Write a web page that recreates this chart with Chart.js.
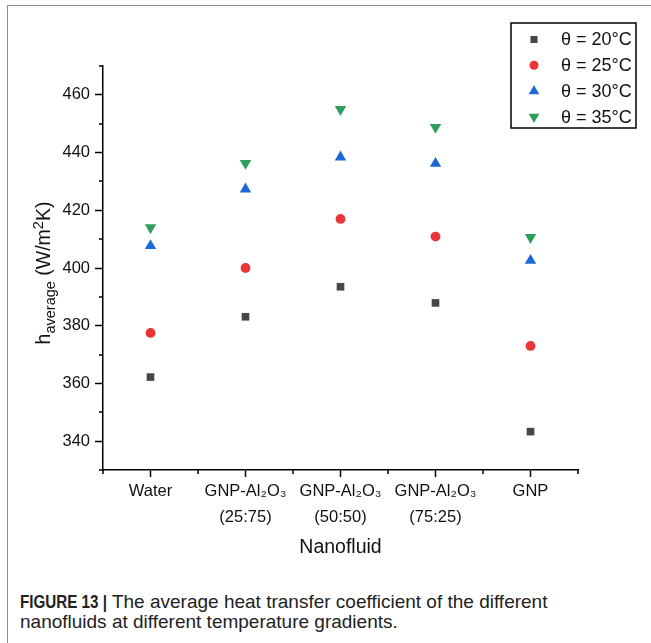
<!DOCTYPE html>
<html><head><meta charset="utf-8">
<script src="https://cdn.jsdelivr.net/npm/chart.js@4.4.0/dist/chart.umd.min.js"></script>
<style>
html,body{margin:0;padding:0;background:#fff;width:651px;height:643px;overflow:hidden;font-family:"Liberation Sans",Arial,sans-serif;}
#frame{position:absolute;left:7px;top:5px;width:700px;height:700px;border-left:1px solid #8c8c8c;border-top:1px solid #8c8c8c;}
#wrap{position:absolute;left:0;top:0;width:651px;height:575px;}
#cap{position:absolute;left:20px;top:592px;font-size:19px;line-height:20px;color:#222;white-space:nowrap;}
#capb{display:inline-block;font-weight:bold;transform-origin:0 50%;}
</style></head><body>
<div id="frame"></div>
<div id="wrap"><canvas id="c" width="651" height="575" style="width:651px;height:575px"></canvas></div>
<div id="cap"><span id="capb">FIGURE 13 |</span> The average heat transfer coefficient of the different<br>nanofluids at different temperature gradients.</div>
<script>
const categories = [["Water"], ["GNP-Al₂O₃", "(25:75)"], ["GNP-Al₂O₃", "(50:50)"], ["GNP-Al₂O₃", "(75:25)"], ["GNP"]];
const seriesNames = ["θ = 20°C", "θ = 25°C", "θ = 30°C", "θ = 35°C"];
const h20 = [362.2, 383.1, 393.5, 387.9, 343.3];
const h25 = [377.5, 400.0, 417.0, 410.9, 373.0];
const h30 = [407.7, 427.3, 438.4, 436.2, 402.6];
const h35 = [414.0, 436.3, 455.0, 448.8, 410.6];
const yTickLabels = [340, 360, 380, 400, 420, 440, 460];
const yMinorTicks = [330, 350, 370, 390, 410, 430, 450, 470];
const xMinorTicks = [-0.5, 0.5, 1.5, 2.5, 3.5, 4.5];
const xTitle = "Nanofluid";

// condense the bold caption label like the reference
(function () {
  const b = document.getElementById('capb');
  const w0 = b.getBoundingClientRect().width;
  const target = 87;
  b.style.transform = 'scaleX(' + (target / w0) + ')';
  b.style.marginRight = (target - w0) + 'px';
})();

const FONT = '"Liberation Sans", Arial, sans-serif';
Chart.defaults.font.family = FONT;

const styles = [
  {pointStyle: 'rect', rotation: 0, radius: 5.4, color: '#474747'},
  {pointStyle: 'circle', rotation: 0, radius: 4.9, color: '#ea3439'},
  {pointStyle: 'triangle', rotation: 0, radius: 6.6, color: '#1d68d8'},
  {pointStyle: 'triangle', rotation: 180, radius: 6.6, color: '#2e9e5c'}
];
const seriesData = [h20, h25, h30, h35];

const datasets = seriesData.map((d, i) => ({
  label: seriesNames[i],
  data: d,
  showLine: false,
  pointStyle: styles[i].pointStyle,
  rotation: styles[i].rotation,
  pointRadius: styles[i].radius,
  pointHoverRadius: styles[i].radius,
  pointBackgroundColor: styles[i].color,
  pointBorderColor: styles[i].color,
  pointBorderWidth: 0,
  backgroundColor: styles[i].color,
  borderColor: styles[i].color,
  clip: false
}));

const extras = {
  id: 'extras',
  afterDraw(chart) {
    const ctx = chart.ctx;
    const xs = chart.scales.x, ys = chart.scales.y;
    const area = chart.chartArea;
    ctx.save();
    // minor ticks
    ctx.strokeStyle = '#000';
    ctx.lineWidth = 1.5;
    ctx.beginPath();
    yMinorTicks.forEach(v => {
      const y = Math.round(ys.getPixelForValue(v));
      ctx.moveTo(area.left - 4, y);
      ctx.lineTo(area.left, y);
    });
    xMinorTicks.forEach(v => {
      const x = Math.round(xs.getPixelForValue(v));
      ctx.moveTo(x, area.bottom);
      ctx.lineTo(x, area.bottom + 4);
    });
    ctx.stroke();

    // y-axis title with subscript / superscript
    const mainF = '19.5px ' + FONT, subF = '14.5px ' + FONT;
    const parts = [
      {t: 'h', f: mainF, dy: 0},
      {t: 'average', f: subF, dy: 4.5},
      {t: ' (W/m', f: mainF, dy: 0},
      {t: '2', f: subF, dy: -7.5},
      {t: 'K)', f: mainF, dy: 0}
    ];
    let total = 0;
    parts.forEach(p => { ctx.font = p.f; p.w = ctx.measureText(p.t).width; total += p.w; });
    ctx.translate(50, (area.top + area.bottom) / 2 + 5);
    ctx.rotate(-Math.PI / 2);
    ctx.fillStyle = '#111';
    ctx.textBaseline = 'alphabetic';
    ctx.textAlign = 'left';
    let u = -total / 2;
    parts.forEach(p => { ctx.font = p.f; ctx.fillText(p.t, u, p.dy); u += p.w; });
    ctx.restore();

    // legend box
    ctx.save();
    const bx = 511, by = 23, bw = 125, bh = 105;
    ctx.strokeStyle = '#000';
    ctx.lineWidth = 1.5;
    ctx.strokeRect(bx, by, bw, bh);
    ctx.font = '18px ' + FONT;
    ctx.textBaseline = 'middle';
    ctx.textAlign = 'left';
    chart.data.datasets.forEach((ds, i) => {
      const y = by + 16.5 + i * 25.8;
      ctx.fillStyle = ds.pointBackgroundColor;
      Chart.helpers.drawPoint(ctx, {pointStyle: ds.pointStyle, rotation: ds.rotation, radius: ds.pointRadius * 0.92, borderWidth: 0}, bx + 23, y);
      ctx.fillStyle = '#111';
      ctx.fillText(ds.label, bx + 50, y + 1);
    });
    ctx.restore();
  }
};

new Chart(document.getElementById('c'), {
  type: 'line',
  data: {labels: categories, datasets},
  options: {
    responsive: false,
    animation: false,
    devicePixelRatio: 1,
    layout: {padding: {left: 0, top: 66, right: 73, bottom: 0}},
    plugins: {legend: {display: false}, tooltip: {enabled: false}},
    scales: {
      x: {
        type: 'category',
        offset: true,
        grid: {display: true, drawOnChartArea: false, drawTicks: true, tickLength: 7, tickWidth: 1.5, tickColor: '#000', offset: false},
        border: {display: true, color: '#000', width: 1.5},
        ticks: {color: '#111', font: {size: 16.5, lineHeight: 1.58}, padding: 1, maxRotation: 0, autoSkip: false},
        title: {display: true, text: xTitle, color: '#111', font: {size: 19.5, lineHeight: 1.2}, padding: {top: 0, bottom: 16}},
        afterFit(s) { s.height = 105; }
      },
      y: {
        min: 330, max: 470,
        grid: {display: true, drawOnChartArea: false, drawTicks: true, tickLength: 8, tickWidth: 1.5,
          tickColor: c => (c.tick && yTickLabels.includes(c.tick.value)) ? '#000' : 'rgba(0,0,0,0)'},
        border: {display: true, color: '#000', width: 1.5},
        ticks: {stepSize: 10, autoSkip: false, color: '#111', font: {size: 16.5}, padding: 5,
          callback: v => yTickLabels.includes(v) ? String(v) : ''},
        afterFit(s) { s.width = 103; }
      }
    }
  },
  plugins: [extras]
});
</script>
</body></html>
